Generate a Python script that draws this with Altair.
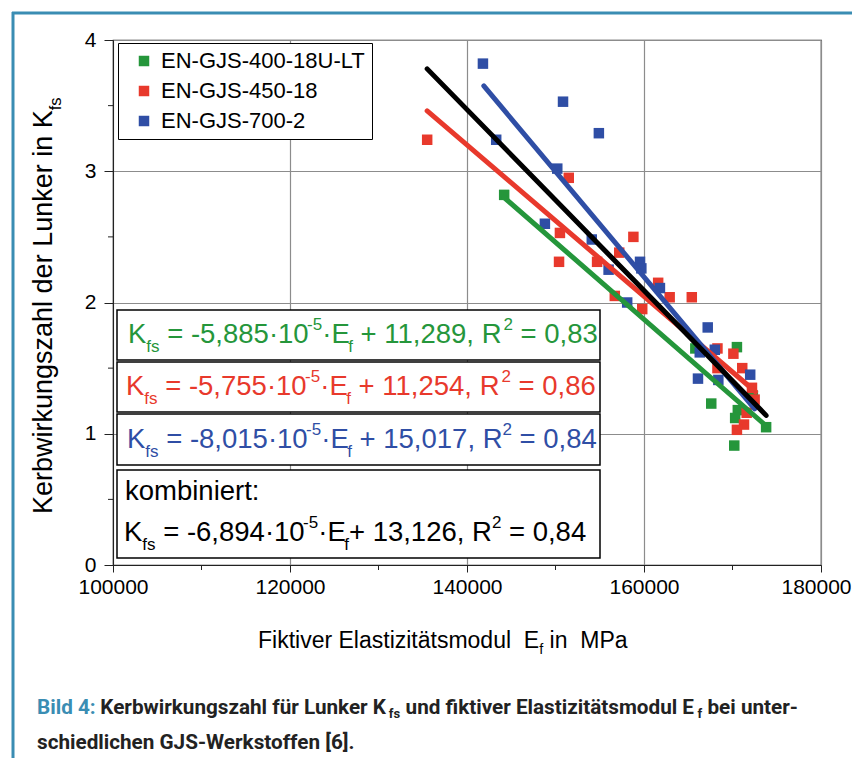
import altair as alt
import pandas as pd

# ---------------- data ----------------
grades = ["EN-GJS-400-18U-LT", "EN-GJS-450-18", "EN-GJS-700-2"]
grade_colors = ["#25963B", "#E8392C", "#2F4EA5"]

green_E = [144200, 165800, 170500, 167600, 172300, 170600, 170300, 173800, 170200]
green_K = [2.82, 1.65, 1.66, 1.23, 1.29, 1.18, 1.12, 1.05, 0.91]

red_E = [135500, 151500, 150500, 150400, 158800, 154700, 157200, 156700, 161600,
         162900, 165400, 159800, 168300, 170100, 171100, 168300, 172200, 172500,
         171600, 171300, 170500]
red_K = [3.24, 2.95, 2.53, 2.31, 2.50, 2.31, 2.38, 2.05, 2.15,
         2.04, 2.04, 1.95, 1.65, 1.61, 1.50, 1.50, 1.35, 1.26,
         1.16, 1.07, 1.03]

blue_E = [141800, 150850, 154900, 143300, 150200, 148800, 154100, 156000, 159550,
          159700, 161800, 158100, 167200, 168000, 166300, 166100, 168400, 172000]
blue_K = [3.82, 3.53, 3.29, 3.24, 3.02, 2.60, 2.48, 2.25, 2.31,
          2.26, 2.11, 2.00, 1.81, 1.64, 1.62, 1.42, 1.41, 1.45]

# regression lines: end points
fit_names = grades + ["kombiniert"]
fit_colors = grade_colors + ["#000000"]
fit_E0 = [144200, 135500, 141900, 135500]
fit_K0 = [2.80, 3.46, 3.65, 3.78]
fit_E1 = [173800, 172600, 172500, 173800]
fit_K1 = [1.06, 1.32, 1.19, 1.14]

x_ticks = [100000, 120000, 140000, 160000, 180000]
x_minor = [110000, 130000, 150000, 170000]
y_ticks = [0, 1, 2, 3, 4]
y_minor = [0.5, 1.5, 2.5, 3.5]

eq_kinds = ["n", "sub", "n", "sup", "n", "sub", "n", "sup", "n"]
eq_green = ["K", "fs", " = -5,885·10", "-5", "·E", "f", " + 11,289, R", "2", " = 0,83"]
eq_red = ["K", "fs", " = -5,755·10", "-5", "·E", "f", " + 11,254, R", "2", " = 0,86"]
eq_blue = ["K", "fs", " = -8,015·10", "-5", "·E", "f", " + 15,017, R", "2", " = 0,84"]
eq_comb_head = "kombiniert:"
eq_comb = ["K", "fs", " = -6,894·10", "-5", "·E", "f", "+ 13,126, R", "2", " = 0,84"]

y_title = ["Kerbwirkungszahl der Lunker in K", "fs"]
x_title = ["Fiktiver Elastizitätsmodul  E", "f", " in  MPa"]
cap_line1 = ["Bild 4:", " Kerbwirkungszahl für Lunker K", "fs",
             " und fiktiver Elastizitätsmodul E", "f", " bei unter-"]
cap_kinds1 = ["n", "n", "sub", "n", "sub", "n"]
cap_line2 = "schiedlichen GJS-Werkstoffen [6]."

# ---------------- layout ----------------
OX, OY = 113, 40          # plot origin on the page
W, H = 708, 525
TEAL = "#3A8DB3"
NB = "\u00a0"

AW = {' ': 278, '-': 333, ',': 278, '.': 278, '·': 278, '=': 584, '+': 584, ':': 278,
      'K': 667, 'E': 667, 'R': 722, 'F': 611, 'M': 833, 'P': 667, 'L': 556,
      'a': 556, 'b': 556, 'd': 556, 'e': 556, 'f': 278, 'g': 556, 'h': 556, 'i': 222,
      'k': 500, 'l': 222, 'm': 833, 'n': 556, 'o': 556, 'r': 333, 's': 500, 't': 278,
      'u': 556, 'v': 500, 'w': 722, 'z': 500, 'ä': 556}
RW = {' ': 248, '-': 276, ',': 197, '.': 263, ':': 242, '[': 266, ']': 266,
      'B': 622, 'K': 626, 'E': 566, 'G': 681, 'J': 551, 'S': 593, 'W': 880, 'L': 539,
      'a': 544, 'b': 561, 'c': 523, 'd': 564, 'e': 530, 'f': 347, 'g': 561, 'h': 551,
      'i': 243, 'k': 507, 'l': 243, 'm': 877, 'n': 552, 'o': 570, 'r': 338, 's': 516,
      't': 327, 'u': 551, 'v': 484, 'w': 751, 'z': 496, 'ä': 544, 'ü': 551}


def tw(s, size, table=AW, factor=1.0):
    return sum(table.get(c, 556) for c in s) / 1000.0 * size * factor


def piece(txt, x, size, table=AW, factor=1.0):
    """Leading blanks are dropped by the renderer: turn them into an x advance."""
    body = txt.lstrip(" ")
    lead = txt[: len(txt) - len(body)]
    return body.replace(" ", NB), x + tw(lead, size, table, factor)


MAIN, SMALL = 27.5, 17


def equation(parts, kinds, x0, base, color):
    rows, x = [], x0
    for txt, kind in zip(parts, kinds):
        size = MAIN if kind == "n" else SMALL
        dy = {"n": 0, "sub": 9, "sup": -13}[kind]
        t, xr = piece(txt, x, size)
        rows.append(dict(t=t, px=xr - OX, py=base + dy - OY, fs=size, col=color))
        x += tw(txt, size)
    return rows


eq_rows = []
eq_rows += equation(eq_green, eq_kinds, 128, 343, grade_colors[0])
eq_rows += equation(eq_red, eq_kinds, 126, 395, grade_colors[1])
eq_rows += equation(eq_blue, eq_kinds, 127, 448, grade_colors[2])
eq_rows.append(dict(t=eq_comb_head, px=125 - OX, py=500 - OY, fs=MAIN, col="#000000"))
eq_rows += equation(eq_comb, eq_kinds, 124, 541, "#000000")

# x-axis title
XT = 23
xs = 258
for txt, kind in zip(x_title, ["n", "sub", "n"]):
    size = XT if kind == "n" else 14.5
    t, xr = piece(txt, xs, size)
    eq_rows.append(dict(t=t, px=xr - OX, py=648 + (6 if kind == "sub" else 0) - OY,
                        fs=size, col="#000000"))
    xs += tw(txt, size)
eq_df = pd.DataFrame(eq_rows)

# y-axis title (rotated)
YT = 27
ytitle_df = pd.DataFrame([
    dict(t=y_title[0].replace(" ", NB), px=52 - OX, py=514 - OY, fs=YT),
    dict(t=y_title[1], px=61 - OX, py=514 - tw(y_title[0], YT) - OY, fs=16.5),
])

# caption
CAP, CAPS = 20.7, 13
cap_rows, xc = [], 37
for i, (txt, kind) in enumerate(zip(cap_line1, cap_kinds1)):
    size = CAP if kind == "n" else CAPS
    t, xr = piece(txt, xc, size, RW, 1.03)
    cap_rows.append(dict(t=t, px=xr - OX, py=714 + (4 if kind == "sub" else 0) - OY,
                         fs=size, col=TEAL if i == 0 else "#222222"))
    xc += tw(txt, size, RW, 1.03)
cap_rows.append(dict(t=cap_line2.replace(" ", NB), px=37 - OX, py=749 - OY, fs=CAP,
                     col="#222222"))
cap_df = pd.DataFrame(cap_rows)

boxes_df = pd.DataFrame(dict(
    x0=[117 - OX] * 4, x1=[600 - OX] * 4,
    y0=[310 - OY, 362 - OY, 414 - OY, 470 - OY],
    y1=[360 - OY, 412 - OY, 465 - OY, 558 - OY]))

frame_df = pd.DataFrame(dict(x0=[13 - OX, 12 - OX], x1=[13 - OX, 870 - OX],
                             y0=[12 - OY, 13 - OY], y1=[790 - OY, 13 - OY]))

# ---------------- chart ----------------
rows = []
for g, Es, Ks in zip(grades, [green_E, red_E, blue_E], [green_K, red_K, blue_K]):
    for e, k in zip(Es, Ks):
        rows.append({"grade": g, "E": e, "K": k})
pts_df = pd.DataFrame(rows)

xscale = alt.Scale(domain=[100000, 180000], nice=False, zero=False)
yscale = alt.Scale(domain=[0, 4], nice=False, zero=False)

xaxis = alt.Axis(values=x_ticks, format="d", title=None, grid=True, gridColor="#8c8c8c",
                 gridWidth=1.2, tickSize=7, tickColor="#222", domainColor="#222",
                 labelFontSize=21, labelFont="Liberation Sans", labelColor="black",
                 labelPadding=4, labelFlush=False, labelOverlap=False,
                 labelOffset={"condition": {"test": "datum.value == 180000", "value": -5},
                              "value": 0})
yaxis = alt.Axis(values=y_ticks, format="d", title=None, grid=True, gridColor="#8c8c8c",
                 gridWidth=1.2, tickSize=9, tickColor="#222", domainColor="#222",
                 labelFontSize=21, labelFont="Liberation Sans", labelColor="black",
                 labelPadding=8, labelFlush=False, labelOverlap=False)

boxes = alt.Chart(boxes_df).mark_rect(fill="white", stroke="black", strokeWidth=1.5).encode(
    x=alt.X("x0:Q", scale=None, axis=None), x2="x1:Q",
    y=alt.Y("y0:Q", scale=None, axis=None), y2="y1:Q")

points = alt.Chart(pts_df).mark_square(size=110, opacity=1).encode(
    x=alt.X("E:Q", scale=xscale, axis=xaxis),
    y=alt.Y("K:Q", scale=yscale, axis=yaxis),
    color=alt.Color("grade:N", scale=alt.Scale(domain=grades, range=grade_colors),
                    legend=alt.Legend(orient="none", legendX=5, legendY=3, title=None,
                                      symbolType="square", symbolSize=110,
                                      labelFontSize=22, labelFont="Liberation Sans",
                                      labelColor="black", labelLimit=0,
                                      padding=7, rowPadding=8,
                                      strokeColor="black", fillColor="white",
                                      symbolOffset=8, labelOffset=6,
                                      symbolStrokeWidth=0)))

fit_layers = []
for i in range(4):
    d = pd.DataFrame(dict(E0=[fit_E0[i]], K0=[fit_K0[i]], E1=[fit_E1[i]], K1=[fit_K1[i]]))
    fit_layers.append(alt.Chart(d).mark_rule(color=fit_colors[i], strokeWidth=5,
                                             strokeCap="round").encode(
        x=alt.X("E0:Q", scale=xscale), x2="E1:Q",
        y=alt.Y("K0:Q", scale=yscale), y2="K1:Q"))

minor_x = alt.Chart(pd.DataFrame(dict(E=x_minor))).mark_rule(color="#222").encode(
    x=alt.X("E:Q", scale=xscale), y=alt.value(H), y2=alt.value(H + 5))
minor_y = alt.Chart(pd.DataFrame(dict(K=y_minor))).mark_rule(color="#222").encode(
    y=alt.Y("K:Q", scale=yscale), x=alt.value(-5), x2=alt.value(0))

eq_text = alt.Chart(eq_df).mark_text(align="left", baseline="alphabetic",
                                     font="Liberation Sans").encode(
    x=alt.X("px:Q", scale=None, axis=None), y=alt.Y("py:Q", scale=None, axis=None),
    text="t:N", size=alt.Size("fs:Q", scale=None, legend=None),
    color=alt.Color("col:N", scale=None, legend=None))

ytitle = alt.Chart(ytitle_df).mark_text(align="left", baseline="alphabetic", angle=270,
                                        font="Liberation Sans", color="black").encode(
    x=alt.X("px:Q", scale=None, axis=None), y=alt.Y("py:Q", scale=None, axis=None),
    text="t:N", size=alt.Size("fs:Q", scale=None, legend=None))

caption = alt.Chart(cap_df).mark_text(align="left", baseline="alphabetic",
                                      font="Roboto", fontWeight="bold").encode(
    x=alt.X("px:Q", scale=None, axis=None), y=alt.Y("py:Q", scale=None, axis=None),
    text="t:N", size=alt.Size("fs:Q", scale=None, legend=None),
    color=alt.Color("col:N", scale=None, legend=None))

frame = alt.Chart(frame_df).mark_rule(color=TEAL, strokeWidth=3).encode(
    x=alt.X("x0:Q", scale=None, axis=None), x2="x1:Q",
    y=alt.Y("y0:Q", scale=None, axis=None), y2="y1:Q")

chart = alt.layer(boxes, minor_x, minor_y, points, *fit_layers, eq_text, ytitle,
                  caption, frame).properties(
    width=W, height=H,
    autosize=alt.AutoSizeParams(type="none"),
    padding={"left": 105, "top": 32, "right": 31, "bottom": 193},
).configure_view(stroke="#222", strokeWidth=1.2)

chart.save("out.html", embed_options={"renderer": "svg", "actions": False})
